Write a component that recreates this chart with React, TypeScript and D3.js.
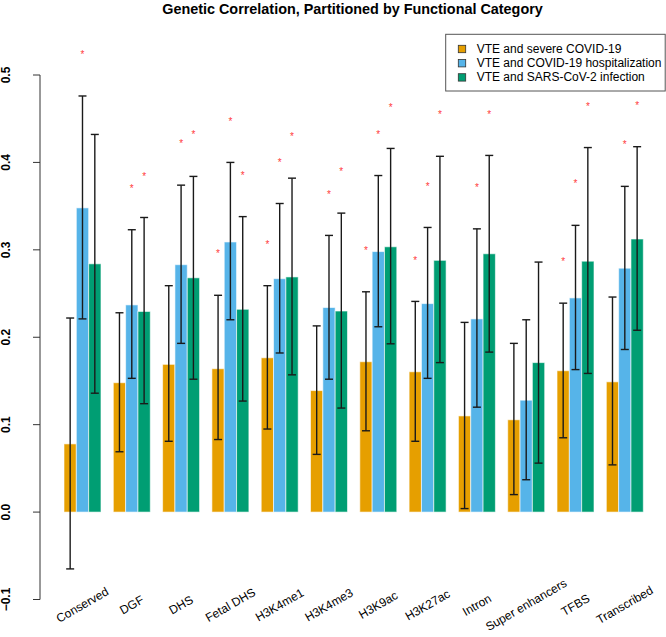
import * as d3 from 'd3';

const categories = [
  'Conserved', 'DGF', 'DHS', 'Fetal DHS', 'H3K4me1', 'H3K4me3',
  'H3K9ac', 'H3K27ac', 'Intron', 'Super enhancers', 'TFBS', 'Transcribed'
];

const seriesNames = [
  'VTE and severe COVID-19',
  'VTE and COVID-19 hospitalization',
  'VTE and SARS-CoV-2 infection'
];

// VTE and severe COVID-19
const severeVals = [0.078, 0.148, 0.169, 0.164, 0.1765, 0.139, 0.172, 0.1605, 0.110, 0.1056, 0.1617, 0.149];
const severeLow = [-0.065, 0.069, 0.081, 0.083, 0.095, 0.066, 0.093, 0.081, 0.004, 0.020, 0.085, 0.054];
const severeHigh = [0.222, 0.228, 0.259, 0.248, 0.259, 0.213, 0.252, 0.241, 0.217, 0.193, 0.239, 0.246];
const severeSig = [false, false, false, true, true, false, true, true, false, false, true, false];

// VTE and COVID-19 hospitalization
const hospVals = [0.348, 0.237, 0.283, 0.309, 0.267, 0.234, 0.298, 0.2385, 0.221, 0.128, 0.245, 0.279];
const hospLow = [0.221, 0.153, 0.193, 0.220, 0.182, 0.152, 0.212, 0.153, 0.120, 0.037, 0.163, 0.186];
const hospHigh = [0.476, 0.323, 0.374, 0.400, 0.353, 0.3165, 0.385, 0.3256, 0.324, 0.220, 0.328, 0.3726];
const hospSig = [true, true, true, true, true, true, true, true, true, false, true, true];

// VTE and SARS-CoV-2 infection
const infVals = [0.284, 0.2295, 0.268, 0.232, 0.269, 0.230, 0.3035, 0.288, 0.2955, 0.171, 0.287, 0.3124];
const infLow = [0.136, 0.124, 0.152, 0.127, 0.157, 0.119, 0.1925, 0.171, 0.183, 0.056, 0.1586, 0.208];
const infHigh = [0.432, 0.337, 0.384, 0.338, 0.382, 0.342, 0.416, 0.407, 0.408, 0.286, 0.417, 0.418];
const infSig = [false, true, true, true, true, true, true, true, true, false, true, true];

const colors = ['#E69F00', '#56B4E9', '#009E73'];

const seriesTable = [
  { vals: severeVals, low: severeLow, high: severeHigh, sig: severeSig },
  { vals: hospVals, low: hospLow, high: hospHigh, sig: hospSig },
  { vals: infVals, low: infLow, high: infHigh, sig: infSig }
];

const W = 666;
const H = 637;
const FONT = '"Liberation Sans", Arial, Helvetica, sans-serif';

export default function App() {
  const x0 = d3.scaleBand<string>().domain(categories).range([64, 643.3]).paddingInner(0.25).paddingOuter(0);
  const x1 = d3.scaleBand<number>().domain([0, 1, 2]).range([0, x0.bandwidth()]).padding(0);
  const y = d3.scaleLinear().domain([-0.1, 0.5]).range([599.5, 75]);
  const ticks = y.ticks(6);
  const fmt = d3.format('.1f');
  const capW = 8;

  return (
    <svg width={W} height={H} style={{ position: 'absolute', left: 0, top: 0, background: '#fff' }} fontFamily={FONT}>
      <text x={352.5} y={14} textAnchor="middle" fontSize={14.4} fontWeight="bold">
        Genetic Correlation, Partitioned by Functional Category
      </text>

      {/* y axis */}
      <line x1={40} x2={40} y1={y(0.5)} y2={y(-0.1)} stroke="#333" strokeWidth={1} />
      {ticks.map((t) => (
        <g key={t}>
          <line x1={33} x2={40} y1={y(t)} y2={y(t)} stroke="#333" strokeWidth={1} />
          <text
            transform={`translate(10,${y(t)}) rotate(-90)`}
            textAnchor="middle"
            fontSize={12}
            fontWeight="bold"
          >
            {fmt(t)}
          </text>
        </g>
      ))}

      {/* bars */}
      {categories.map((c, i) => (
        <g key={c} transform={`translate(${x0(c)},0)`}>
          {seriesTable.map((s, k) => {
            const v = s.vals[i];
            return (
              <rect
                key={k}
                x={x1(k)}
                width={x1.bandwidth()}
                y={y(Math.max(0, v))}
                height={Math.abs(y(v) - y(0))}
                fill={colors[k]}
                stroke="rgba(255,255,255,0.6)"
                strokeWidth={1}
              />
            );
          })}
        </g>
      ))}

      {/* error bars and stars */}
      {categories.map((c, i) => (
        <g key={c + '-err'} transform={`translate(${x0(c)},0)`}>
          {seriesTable.map((s, k) => {
            const cx = (x1(k) as number) + x1.bandwidth() / 2;
            const yl = y(s.low[i]);
            const yh = y(s.high[i]);
            return (
              <g key={k} stroke="#1a1a1a" strokeWidth={1.4}>
                <line x1={cx} x2={cx} y1={yl} y2={yh} />
                <line x1={cx - capW / 2} x2={cx + capW / 2} y1={yl} y2={yl} />
                <line x1={cx - capW / 2} x2={cx + capW / 2} y1={yh} y2={yh} />
                {s.sig[i] && (
                  <text
                    x={cx}
                    y={y(s.high[i] + 0.05) + 5.8}
                    textAnchor="middle"
                    fontSize={10}
                    fill="#ff3b3b"
                    stroke="none"
                  >
                    *
                  </text>
                )}
              </g>
            );
          })}
        </g>
      ))}

      {/* x labels */}
      {categories.map((c) => (
        <text
          key={c + '-lab'}
          transform={`translate(${(x0(c) as number) + x0.bandwidth() / 2},605) rotate(-30)`}
          textAnchor="middle"
          dominantBaseline="central"
          fontSize={12}
        >
          {c}
        </text>
      ))}

      {/* legend */}
      <rect x={445.7} y={34.3} width={219.5} height={56.7} fill="#fff" stroke="#555" strokeWidth={1} />
      {seriesNames.map((n, k) => (
        <g key={n} transform={`translate(0,${49 + k * 14.2})`}>
          <rect x={458.3} y={-3.7} width={7.4} height={7.4} fill={colors[k]} stroke="#333" strokeWidth={0.8} />
          <text x={476.7} y={0} dominantBaseline="central" fontSize={12}>
            {n}
          </text>
        </g>
      ))}
    </svg>
  );
}
